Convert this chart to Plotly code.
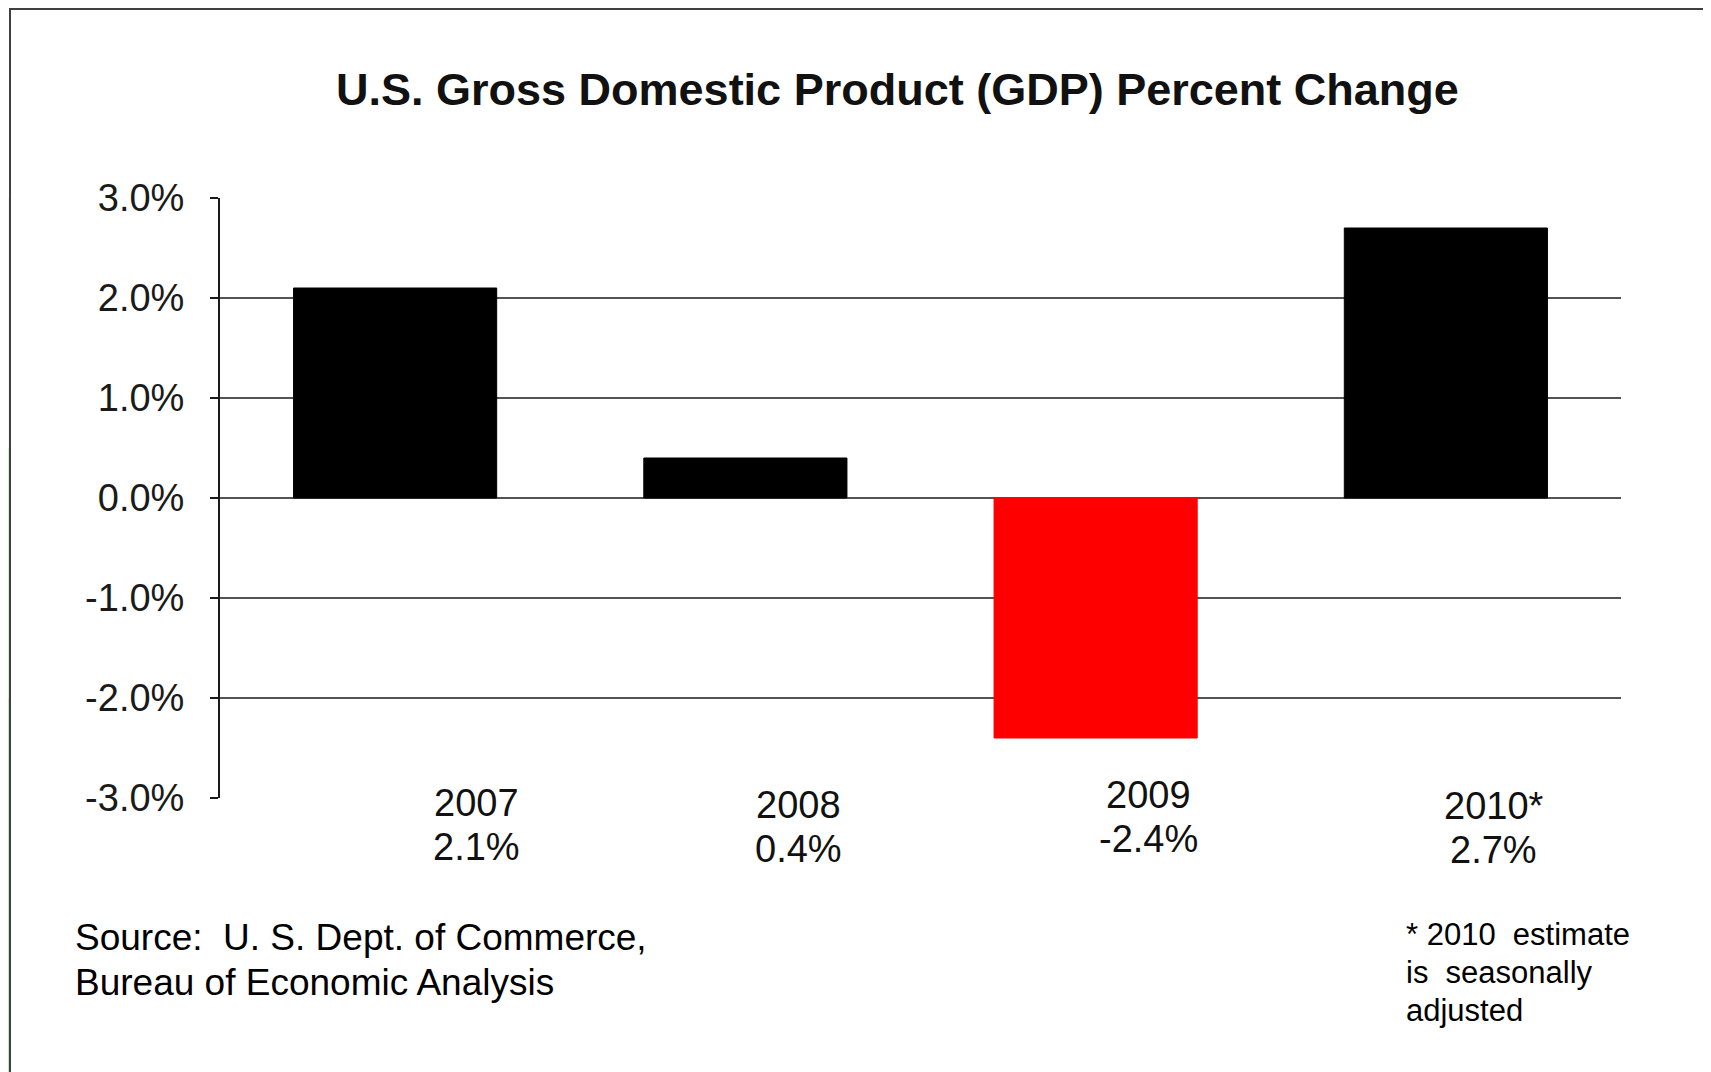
import plotly.graph_objects as go

# ---- data ----
years = ["2007", "2008", "2009", "2010*"]
gdp_change = [2.1, 0.4, -2.4, 2.7]
value_labels = ["2.1%", "0.4%", "-2.4%", "2.7%"]
bar_colors = ["#000000", "#000000", "#ff0000", "#000000"]
ytick_vals = [3, 2, 1, 0, -1, -2, -3]
ytick_text = ["3.0%", "2.0%", "1.0%", "0.0%", "-1.0%", "-2.0%", "-3.0%"]
grid_vals = [2, 1, 0, -1, -2]
title_text = "U.S. Gross Domestic Product (GDP) Percent Change"
source_lines = ["Source:\u00a0\u00a0U. S. Dept. of Commerce,", "Bureau of Economic Analysis"]
note_lines = ["*\u00a02010\u00a0\u00a0estimate", "is\u00a0\u00a0seasonally", "adjusted"]

# ---- layout helpers (positions / styles) ----
FONT = "Liberation Sans, Arial, sans-serif"
label_xshift = [81, 53, 53, 48]
year_yshift = [-5, -7, 3, -8]
value_gap = 44

fig = go.Figure()
fig.add_trace(go.Bar(
    x=list(range(len(years))), y=gdp_change, width=0.58,
    marker=dict(color=bar_colors, line=dict(color=bar_colors, width=1)),
    hoverinfo="skip",
))

shapes = []
for g in grid_vals:
    shapes.append(dict(type="line", xref="paper", yref="y", x0=0, x1=1, y0=g, y1=g,
                       line=dict(color="#1a1a1a", width=1.5), layer="below"))

# outer frame (left and top border lines)
shapes.append(dict(type="line", xref="paper", yref="paper", xsizemode="pixel", ysizemode="pixel",
                   xanchor=0, yanchor=0, x0=-210, x1=-210, y0=-280, y1=870,
                   line=dict(color="#404040", width=2)))
shapes.append(dict(type="line", xref="paper", yref="paper", xsizemode="pixel", ysizemode="pixel",
                   xanchor=0, yanchor=1, x0=-211, x1=1500, y0=189, y1=189,
                   line=dict(color="#404040", width=2)))
# faint green strip at left edge
for (ya, yb, col) in [(-280, 100, "#bfe6c6"), (100, 350, "#d6efda"), (350, 600, "#eef8f0")]:
    shapes.append(dict(type="rect", xref="paper", yref="paper", xsizemode="pixel", ysizemode="pixel",
                       xanchor=0, yanchor=0, x0=-213, x1=-211, y0=ya, y1=yb,
                       line=dict(width=0), fillcolor=col, layer="below"))

annotations = []
for i, yr in enumerate(years):
    annotations.append(dict(xref="x", yref="paper", x=i, y=0, xshift=label_xshift[i],
                            yshift=year_yshift[i], yanchor="middle", xanchor="center",
                            text=yr, showarrow=False, font=dict(family=FONT, size=38, color="#111111")))
    annotations.append(dict(xref="x", yref="paper", x=i, y=0, xshift=label_xshift[i],
                            yshift=year_yshift[i] - value_gap, yanchor="middle", xanchor="center",
                            text=value_labels[i], showarrow=False, font=dict(family=FONT, size=38, color="#111111")))

annotations.append(dict(xref="paper", yref="paper", x=0.5, y=1, xshift=-23, yshift=109,
                        xanchor="center", yanchor="middle", text="<b>" + title_text + "</b>",
                        showarrow=False, font=dict(family=FONT, size=45, color="#111111")))

for j, line in enumerate(source_lines):
    annotations.append(dict(xref="paper", yref="paper", x=0, y=0, xshift=-147, yshift=-139 - 45 * j,
                            xanchor="left", yanchor="middle", text=line, showarrow=False,
                            font=dict(family=FONT, size=37, color="#000000")))
for j, line in enumerate(note_lines):
    annotations.append(dict(xref="paper", yref="paper", x=0, y=0, xshift=1184, yshift=-136 - 38 * j,
                            xanchor="left", yanchor="middle", text=line, showarrow=False,
                            font=dict(family=FONT, size=31, color="#000000")))

fig.update_layout(
    width=1703, height=1064,
    margin=dict(l=212, r=90, t=190, b=274),
    paper_bgcolor="white", plot_bgcolor="white",
    showlegend=False,
    shapes=shapes, annotations=annotations,
    xaxis=dict(range=[-0.5, 3.5], showticklabels=False, showgrid=False, zeroline=False,
               showline=False, ticks=""),
    yaxis=dict(range=[-3, 3], tickvals=ytick_vals, ticktext=ytick_text, showgrid=False,
               zeroline=False, showline=True, linecolor="#1a1a1a", linewidth=2,
               ticks="outside", ticklen=8, tickwidth=2, tickcolor="#1a1a1a",
               ticklabelstandoff=18,
               tickfont=dict(family=FONT, size=38, color="#1a1a1a")),
)

fig.write_html("out.html")
